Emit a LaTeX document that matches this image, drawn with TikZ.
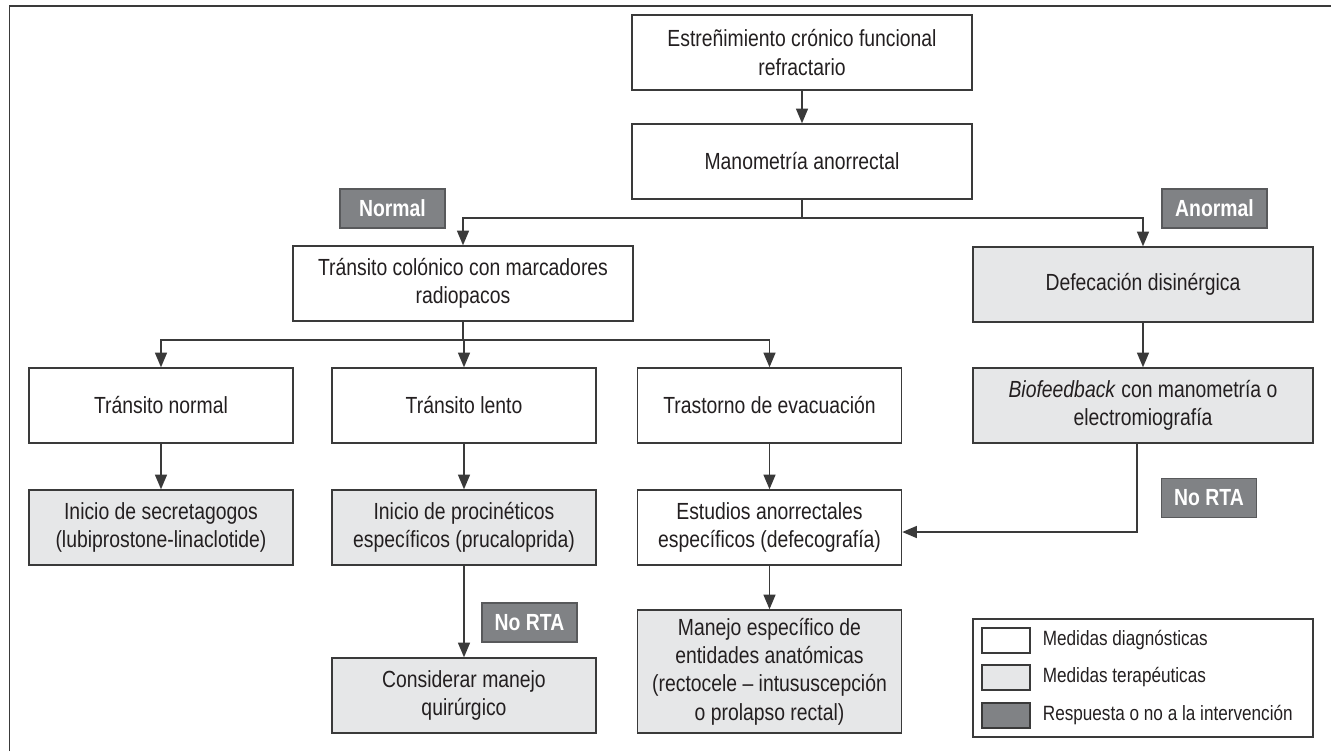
\documentclass[tikz,border=0pt]{standalone}
\usepackage{fontspec}
\setmainfont{Liberation Sans}[FakeStretch=0.83]
\usetikzlibrary{arrows.meta,positioning}
\definecolor{linegray}{HTML}{3A3A3A}
\definecolor{inkgray}{HTML}{231F20}
\definecolor{terafill}{HTML}{E6E7E8}
\definecolor{respfill}{HTML}{808285}
\definecolor{respline}{HTML}{58595B}
\tikzstyle{diag}=[draw=linegray, line width=1.1pt, fill=white, text=inkgray,
    align=center, inner sep=4pt, font=\fontsize{17.5}{21.2}\selectfont]
\tikzstyle{terap}=[diag, fill=terafill]
\tikzstyle{wide}=[minimum width=255pt, minimum height=56.25pt]
\tikzstyle{narrow}=[minimum width=198pt, minimum height=56.25pt]
\tikzstyle{resp}=[draw=respline, line width=1.1pt, fill=respfill, text=white,
    minimum width=71pt, minimum height=29pt, inner sep=2pt,
    font=\fontsize{17.5}{20}\selectfont\bfseries]
\tikzstyle{flow}=[draw=linegray, line width=1.1pt, -{Triangle[length=11pt,width=9pt]}]
\tikzstyle{swatch}=[draw=linegray, line width=0.9pt, minimum width=36pt, minimum height=18.75pt]
\tikzstyle{legtext}=[inner sep=0pt, text=inkgray, font=\fontsize{15.5}{17}\selectfont]

\begin{document}
\begin{tikzpicture}[x=0.75pt, y=-0.75pt]
    \useasboundingbox (0,0) rectangle (1331,751);
    \draw [linegray, line width=1.1pt] (9.5,751) -- (9.5,6) -- (1331,6);

    \node (ecf) [diag, wide] at (802,52.5) {Estreñimiento crónico funcional\\refractario};
    \node (mano) [diag, wide] at (802,161.5) {Manometría anorrectal};
    \node (colon) [diag, wide] at (463,283.5) {Tránsito colónico con marcadores\\radiopacos};
    \node (disin) [terap, wide] at (1143,284.5) {Defecación disinérgica};
    \node (tnorm) [diag, narrow] at (161,405.5) {Tránsito normal};
    \node (tlento) [diag, narrow] at (464,405.5) {Tránsito lento};
    \node (tevac) [diag, narrow] at (769.5,405.5) {Trastorno de evacuación};
    \node (biofb) [terap, wide] at (1143,405.5) {\textit{Biofeedback} con manometría o\\electromiografía};
    \node (secre) [terap, narrow] at (161,527.5) {Inicio de secretagogos\\(lubiprostone-linaclotide)};
    \node (proci) [terap, narrow] at (464,527.5) {Inicio de procinéticos\\específicos (prucaloprida)};
    \node (estud) [diag, narrow] at (769.5,527.5) {Estudios anorrectales\\específicos (defecografía)};
    \node (quir) [terap, narrow] at (464,695.5) {Considerar manejo\\quirúrgico};
    \node (manejo) [terap, narrow, minimum height=92.25pt] at (769.5,671.5)
        {Manejo específico de\\entidades anatómicas\\(rectocele -- intususcepción\\o prolapso rectal)};

    \node (lnorm) [resp, minimum width=78.75pt] at (392.5,208.5) {Normal};
    \node (lanorm) [resp, minimum width=78.75pt] at (1214.5,208.5) {Anormal};
    \node (nrta1) [resp] at (529.5,622.5) {No RTA};
    \node (nrta2) [resp] at (1209,498) {No RTA};

    \coordinate (split1) at (802,218);
    \coordinate (split2) at (463,340);
    \coordinate (bend) at (1137,532);
    \draw [flow] (ecf) -- (mano);
    \draw [linegray, line width=1.1pt] (mano) -- (split1);
    \draw [flow] (split1) -| (colon);
    \draw [flow] (split1) -| (disin);
    \draw [linegray, line width=1.1pt] (colon) -- (split2);
    \draw [flow] (split2) -| (tnorm);
    \draw [flow] (split2) -| (tlento);
    \draw [flow] (split2) -| (tevac);
    \draw [flow] (tnorm) -- (secre);
    \draw [flow] (tlento) -- (proci);
    \draw [flow] (tevac) -- (estud);
    \draw [flow] (disin) -- (biofb);
    \draw [flow] (proci) -- (quir);
    \draw [flow] (estud) -- (manejo);
    \draw [flow] (biofb.south -| bend) -- (bend) -- (estud.east |- bend);

    \node (legend) [draw=linegray, line width=1.1pt, minimum width=255pt, minimum height=88.5pt] at (1143,678) {};
    \node (swdiag) [swatch, fill=white] at (1006,640.5) {};
    \node (swterap) [swatch, fill=terafill] at (1006,677.5) {};
    \node (swresp) [swatch, fill=respfill] at (1006,715.5) {};
    \node (ldiag) [legtext, right=9pt of swdiag] {Medidas diagnósticas};
    \node (lterap) [legtext, right=9pt of swterap] {Medidas terapéuticas};
    \node (lresp) [legtext, right=9pt of swresp] {Respuesta o no a la intervención};
\end{tikzpicture}
\end{document}
